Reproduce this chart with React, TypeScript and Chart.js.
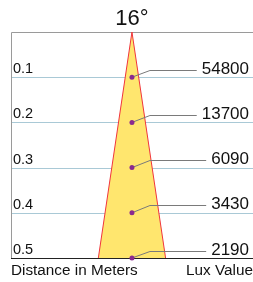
import { useEffect, useRef } from "react";
import { Chart, registerables } from "chart.js";

Chart.register(...registerables);

const titleText = "16°";
const distances = [0.1, 0.2, 0.3, 0.4, 0.5];
const distanceLabels = ["0.1", "0.2", "0.3", "0.4", "0.5"];
const luxValues = [54800, 13700, 6090, 3430, 2190];
const coneX = [-0.0695, 0, 0.0695];
const coneY = [0.5, 0, 0.5];
const xAxisLabel = "Distance in Meters";
const valueAxisLabel = "Lux Value";

const FONT = "'Liberation Sans', Arial, sans-serif";

export default function App() {
  const ref = useRef<HTMLCanvasElement | null>(null);

  useEffect(() => {
    document.body.style.margin = "0";
    const canvas = ref.current;
    if (!canvas) return;

    const decor = {
      id: "decor",
      beforeDatasetsDraw(chart: any) {
        const { ctx, chartArea } = chart;
        const ys = chart.scales.y;
        ctx.save();
        ctx.lineWidth = 1;
        ctx.strokeStyle = "#a9c9d6";
        distances.forEach((d) => {
          const y = Math.round(ys.getPixelForValue(d)) + 0.5;
          ctx.beginPath();
          ctx.moveTo(chartArea.left, y);
          ctx.lineTo(chartArea.right + 5, y);
          ctx.stroke();
        });
        ctx.strokeStyle = "#9a9a9a";
        ctx.beginPath();
        const top = Math.round(chartArea.top) + 0.5;
        const left = Math.round(chartArea.left) + 0.5;
        ctx.moveTo(chartArea.right + 5, top);
        ctx.lineTo(left, top);
        ctx.lineTo(left, chartArea.bottom);
        ctx.stroke();
        ctx.restore();
      },
      afterDatasetDraw(chart: any, args: any) {
        if (args.meta.label !== "cone") return;
        const { ctx, chartArea } = chart;
        const xs = chart.scales.x;
        const ys = chart.scales.y;
        ctx.save();
        ctx.strokeStyle = "#222";
        ctx.lineWidth = 1;
        const by = Math.round(ys.getPixelForValue(0.5)) + 0.5;
        ctx.beginPath();
        ctx.moveTo(chartArea.left, by);
        ctx.lineTo(chartArea.right + 5, by);
        ctx.stroke();
        ctx.font = `17px ${FONT}`;
        ctx.strokeStyle = "#7a7a7a";
        const px = xs.getPixelForValue(0);
        luxValues.forEach((v, i) => {
          const y = ys.getPixelForValue(distances[i]);
          const txt = String(v);
          const w = ctx.measureText(txt).width;
          const textLeft = 249 - w;
          const ly = Math.round(y - 7.5) + 0.5;
          ctx.beginPath();
          ctx.moveTo(px, y);
          ctx.lineTo(px + 18, ly);
          ctx.lineTo(textLeft - 5, ly);
          ctx.stroke();
        });
        ctx.restore();
      },
      afterDraw(chart: any) {
        const { ctx, chartArea } = chart;
        const ys = chart.scales.y;
        const xs = chart.scales.x;
        ctx.save();
        ctx.fillStyle = "#111";
        ctx.textBaseline = "alphabetic";
        ctx.font = `22px ${FONT}`;
        ctx.textAlign = "center";
        ctx.fillText(titleText, xs.getPixelForValue(0), 25);
        ctx.font = `14.5px ${FONT}`;
        ctx.textAlign = "left";
        distances.forEach((d, i) => {
          const y = ys.getPixelForValue(d);
          ctx.fillText(distanceLabels[i], chartArea.left + 2, y - 4);
        });
        ctx.font = `17px ${FONT}`;
        ctx.textAlign = "right";
        luxValues.forEach((v, i) => {
          const y = ys.getPixelForValue(distances[i]);
          ctx.fillText(String(v), 249, y - 3.5);
        });
        ctx.font = `15.3px ${FONT}`;
        ctx.textAlign = "left";
        ctx.fillText(xAxisLabel, chartArea.left, 275);
        ctx.textAlign = "right";
        ctx.fillText(valueAxisLabel, 253, 275);
        ctx.restore();
      },
    };

    const chart = new Chart(canvas, {
      type: "scatter",
      data: {
        datasets: [
          {
            label: "points",
            order: 0,
            data: distances.map((d) => ({ x: 0, y: d })),
            pointRadius: 2.5,
            pointHoverRadius: 2.5,
            pointBackgroundColor: "#8b2a8f",
            pointBorderColor: "#8b2a8f",
            pointBorderWidth: 0,
            showLine: false,
            clip: false as any,
          },
          {
            label: "cone",
            order: 1,
            type: "line" as any,
            data: coneX.map((x, i) => ({ x, y: coneY[i] })),
            borderColor: "#f0343c",
            borderWidth: 1,
            backgroundColor: "#ffe66e",
            fill: { value: 0.5 } as any,
            pointRadius: 0,
            tension: 0,
            showLine: true,
            clip: false as any,
          },
        ],
      },
      options: {
        animation: false,
        responsive: false,
        devicePixelRatio: 1,
        layout: { padding: { left: 11, right: 0, top: 32, bottom: 24 } },
        plugins: {
          legend: { display: false },
          tooltip: { enabled: false },
          title: { display: false },
        },
        events: [],
        scales: {
          x: { type: "linear", min: -0.25, max: 0.245, display: false },
          y: { type: "linear", min: 0, max: 0.5, reverse: true, display: false },
        },
      },
      plugins: [decor],
    });

    return () => chart.destroy();
  }, []);

  return <canvas ref={ref} width={253} height={282} style={{ display: "block" }} />;
}
